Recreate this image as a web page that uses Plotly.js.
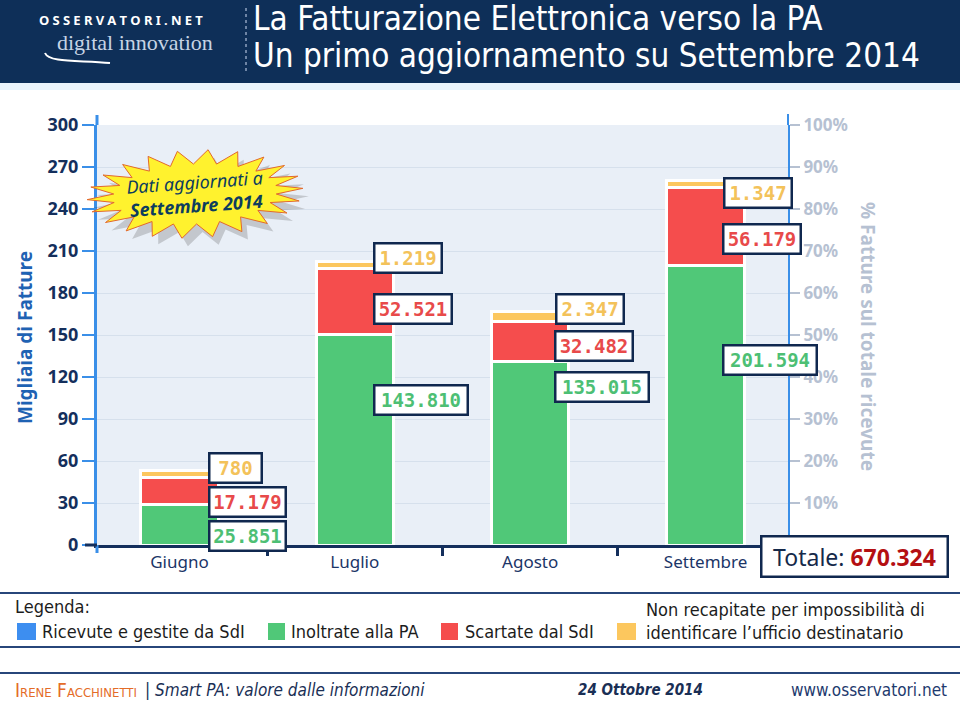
<!DOCTYPE html>
<html><head><meta charset="utf-8">
<script src="https://cdn.plot.ly/plotly-3.0.1.min.js"></script>
<style>html,body{margin:0;padding:0;background:#fff}#chart{width:960px;height:702px}</style>
</head><body><div id="chart"></div>
<script>
// ---- data (thousands of invoices, segment heights as drawn) ----
const months = ['Giugno', 'Luglio', 'Agosto', 'Settembre'];
const inoltrate = [28.9, 150.6, 130.9, 199.8];
const scartate = [19.6, 47.1, 29.1, 55.6];
const nonRecapitate = [4.6, 5.1, 7.0, 5.2];
// printed value labels
const inoltrateLbl = ['25.851', '143.810', '135.015', '201.594'];
const scartateLbl = ['17.179', '52.521', '32.482', '56.179'];
const nonRecLbl = ['780', '1.219', '2.347', '1.347'];
const totaleLbl = '670.324';
// axis ticks
const leftTicks = [0, 30, 60, 90, 120, 150, 180, 210, 240, 270, 300];
const rightTicks = [10, 20, 30, 40, 50, 60, 70, 80, 90, 100];
const rightTickText = ['10%', '20%', '30%', '40%', '50%', '60%', '70%', '80%', '90%', '100%'];
const legendLabels = ['Ricevute e gestite da SdI', 'Inoltrate alla PA', 'Scartate dal SdI',
  'Non recapitate per impossibilità di<br>identificare l\u2019ufficio destinatario'];

// ---- styling ----
const C = {green: '#50c878', red: '#f54d4d', yellow: '#fcc75e', blue: '#3d8ef0',
  navy: '#142f5c', axisBlue: '#3a8fe8', grayTxt: '#b6c1d2', band: '#0e2f58'};
const PL = 97, PR = 788, PT = 125, PB = 545;
const px = x => (x - PL) / (PR - PL);
const py = y => (PB - y) / (PB - PT);
const SANS = 'Noto Sans, DejaVu Sans, sans-serif';
const COND = 'DejaVu Sans Condensed, Liberation Sans Narrow, DejaVu Sans, sans-serif';
const MONO = 'DejaVu Sans Mono, monospace';

function bar(name, y, color) {
  return {type: 'bar', name: name, x: months, y: y, width: 0.44,
    marker: {color: color, line: {color: '#ffffff', width: 3}},
    hoverinfo: 'skip'};
}
const traces = [bar('Inoltrate alla PA', inoltrate, C.green),
  bar('Scartate dal SdI', scartate, C.red),
  bar('Non recapitate', nonRecapitate, C.yellow)];

const annotations = [];
function ann(text, x, y, o) {
  annotations.push(Object.assign({text: text, xref: 'paper', yref: 'paper', x: px(x), y: py(y),
    showarrow: false, xanchor: 'left', yanchor: 'middle'}, o || {}));
}
function boxLbl(text, x, y, color, w) {
  ann(text, x, y, {xanchor: 'center', bgcolor: '#ffffff', bordercolor: '#10284f', borderwidth: 2.5,
    borderpad: 2, width: w, height: 23, font: {family: MONO, size: 19, color: color, weight: 'bold'}});
}
// value labels (pixel centres)
boxLbl(nonRecLbl[0], 235, 468, '#f3c25a', 46);
boxLbl(scartateLbl[0], 247, 502, '#e84a4a', 70);
boxLbl(inoltrateLbl[0], 247, 536, '#4dbf74', 70);
boxLbl(nonRecLbl[1], 408, 258, '#f3c25a', 61);
boxLbl(scartateLbl[1], 413, 309, '#e84a4a', 71);
boxLbl(inoltrateLbl[1], 421, 400, '#4dbf74', 87);
boxLbl(nonRecLbl[2], 590, 309, '#f3c25a', 61);
boxLbl(scartateLbl[2], 594, 346, '#e84a4a', 71);
boxLbl(inoltrateLbl[2], 602, 387, '#4dbf74', 87);
boxLbl(nonRecLbl[3], 758, 193, '#f3c25a', 61);
boxLbl(scartateLbl[3], 762, 239, '#e84a4a', 71);
boxLbl(inoltrateLbl[3], 770, 360, '#4dbf74', 87);
// totale
ann('Totale: <b><span style="color:#b40f12">' + totaleLbl + '</span></b>', 854, 556,
  {xanchor: 'center', bgcolor: '#ffffff', bordercolor: '#10284f', borderwidth: 2.5, borderpad: 4,
   width: 176, height: 30, font: {family: SANS, size: 23, color: '#15294a'}});
// axis titles
ann('Migliaia di Fatture', 25, 338, {xanchor: 'center', textangle: -90,
  font: {family: SANS, size: 19, color: '#1f62b3', weight: 'bold'}});
ann('% Fatture sul totale ricevute', 868, 336, {xanchor: 'center', textangle: 90,
  font: {family: SANS, size: 19, color: C.grayTxt, weight: 'bold'}});
// starburst text
ann('<i>Dati aggiornati a</i><br><b><i>Settembre 2014</i></b>', 195, 193, {xanchor: 'center', textangle: -4,
  font: {family: SANS, size: 18, color: '#0d3d5e'}});
// header
ann('La Fatturazione Elettronica verso la PA', 252, 1, {yanchor: 'top', height: 32, borderpad: 0,
  font: {family: COND, size: 33, color: '#ffffff'}});
ann('Un primo aggiornamento su Settembre 2014', 252, 35, {yanchor: 'top', height: 38, borderpad: 0,
  font: {family: COND, size: 33, color: '#ffffff'}});
ann('O\u2005S\u2005S\u2005E\u2005R\u2005V\u2005A\u2005T\u2005O\u2005R\u2005I\u2005.\u2005N\u2005E\u2005T', 37, 20,
  {font: {family: SANS, size: 13, color: '#ffffff', weight: 'bold'}});
ann('digital innovation', 55, 42, {font: {family: 'Liberation Serif, serif', size: 22, color: '#c6d4e5'}});
// legend
const LF = {family: COND, size: 18, color: '#1c1c1c'};
ann('Legenda:', 13, 606, {font: LF});
ann(legendLabels[0], 40, 631, {font: LF});
ann(legendLabels[1], 289, 631, {font: LF});
ann(legendLabels[2], 463, 631, {font: LF});
ann(legendLabels[3], 644, 621, {align: 'left', font: LF});
// footer
ann('Irene Facchinetti', 13, 690, {font: {family: COND, size: 19, color: '#e46c28', variant: 'small-caps'}});
ann('| <i>Smart PA: valore dalle informazioni</i>', 143, 690, {font: {family: COND, size: 17, color: '#1a2f55'}});
ann('<i>24 Ottobre 2014</i>', 576, 690, {font: {family: COND, size: 15, color: '#1a2f55', weight: 'bold'}});
ann('www.osservatori.net', 789, 690, {font: {family: COND, size: 17, color: '#1e3a6e'}});

// ---- decorative shapes ----
const shapes = [];
function rectPx(x0, y0, x1, y1, fill, o) {
  shapes.push(Object.assign({type: 'rect', xref: 'paper', yref: 'paper', x0: px(x0), x1: px(x1),
    y0: py(y0), y1: py(y1), fillcolor: fill, line: {width: 0}, layer: 'above'}, o || {}));
}
function linePx(x0, y0, x1, y1, color, w, o) {
  shapes.push(Object.assign({type: 'line', xref: 'paper', yref: 'paper', x0: px(x0), x1: px(x1),
    y0: py(y0), y1: py(y1), line: {color: color, width: w}, layer: 'above'}, o || {}));
}
function pathPx(pts, fill, lineColor, lw) {
  let d = pts.map((p, i) => (i ? 'L' : 'M') + px(p[0]).toFixed(5) + ',' + py(p[1]).toFixed(5)).join(' ') + ' Z';
  shapes.push({type: 'path', xref: 'paper', yref: 'paper', path: d, fillcolor: fill,
    line: {color: lineColor, width: lw}, layer: 'above'});
}
function star(cx, cy, rxo, ryo, rxi, ryi, n, rot) {
  const pts = [];
  for (let i = 0; i < 2 * n; i++) {
    const a = Math.PI * i / n;
    const rx = i % 2 ? rxi : rxo, ry = i % 2 ? ryi : ryo;
    const x = rx * Math.cos(a), y = ry * Math.sin(a);
    const r = rot * Math.PI / 180;
    pts.push([cx + x * Math.cos(r) - y * Math.sin(r), cy + x * Math.sin(r) + y * Math.cos(r)]);
  }
  return pts;
}
// header band
rectPx(0, 0, 960, 83, C.band);
rectPx(0, 83, 960, 90, '#eaf4fb');
linePx(246, 8, 246, 74, '#8ea3c0', 1.5, {line: {color: '#8ea3c0', width: 1.5, dash: 'dot'}});
shapes.push({type: 'path', xref: 'paper', yref: 'paper', layer: 'above',
  path: 'M' + px(45) + ',' + py(53) + ' C' + px(49) + ',' + py(63) + ' ' + px(80) + ',' + py(60) + ' ' + px(110) + ',' + py(63),
  line: {color: '#ffffff', width: 2}});
// axis extensions
linePx(97, 115, 97, 125, C.axisBlue, 3);
linePx(97, 545, 97, 553, C.axisBlue, 3);
linePx(788, 114, 788, 125, C.axisBlue, 2);
linePx(85, 545, 97, 545, C.navy, 3);
// starburst with shadow
pathPx(star(201, 202, 108, 44, 82, 30, 22, -3), 'rgba(60,60,60,0.22)', 'rgba(0,0,0,0)', 0);
pathPx(star(195, 194, 108, 44, 82, 30, 22, -3), '#fff22e', '#e2692c', 1);
// legend lines and swatches
linePx(0, 593, 960, 593, '#27467a', 2);
linePx(0, 647, 960, 647, '#27467a', 2);
linePx(0, 673, 960, 673, '#27467a', 2);
rectPx(17, 623, 36, 640, C.blue);
rectPx(268, 623, 285, 640, C.green);
rectPx(441, 623, 458, 640, C.red);
rectPx(617, 623, 636, 640, C.yellow);

const layout = {
  width: 960, height: 702,
  margin: {l: PL, r: 960 - PR, t: PT, b: 702 - PB, pad: 0},
  paper_bgcolor: '#ffffff', plot_bgcolor: '#e9eff7',
  barmode: 'stack', showlegend: false,
  xaxis: {type: 'category', range: [-0.47, 3.47], fixedrange: true,
    tickson: 'boundaries', ticks: 'outside', ticklen: 8, tickwidth: 3, tickcolor: C.navy,
    showline: true, linecolor: C.navy, linewidth: 3, showgrid: false, zeroline: false,
    tickfont: {family: SANS, size: 17, color: '#1b3567', weight: 'normal'}},
  yaxis: {range: [0, 300], tickvals: leftTicks, fixedrange: true,
    ticks: 'outside', ticklen: 12, tickwidth: 2, tickcolor: C.axisBlue,
    showline: true, linecolor: C.axisBlue, linewidth: 3,
    gridcolor: '#d6e0ec', gridwidth: 1, zeroline: false,
    tickfont: {family: SANS, size: 18, color: C.navy, weight: 'bold'}},
  yaxis2: {overlaying: 'y', side: 'right', anchor: 'x', range: [0, 100], fixedrange: true,
    tickvals: rightTicks, ticktext: rightTickText,
    ticks: 'outside', ticklen: 10, tickwidth: 2, tickcolor: C.grayTxt,
    showline: true, linecolor: C.axisBlue, linewidth: 2, showgrid: false, zeroline: false,
    tickfont: {family: SANS, size: 17, color: C.grayTxt, weight: 'bold'}},
  annotations: annotations,
  shapes: shapes
};
traces.push({type: 'scatter', x: [], y: [], yaxis: 'y2', showlegend: false, hoverinfo: 'skip'});
Plotly.newPlot('chart', traces, layout, {staticPlot: true, displayModeBar: false});
</script>
</body></html>
